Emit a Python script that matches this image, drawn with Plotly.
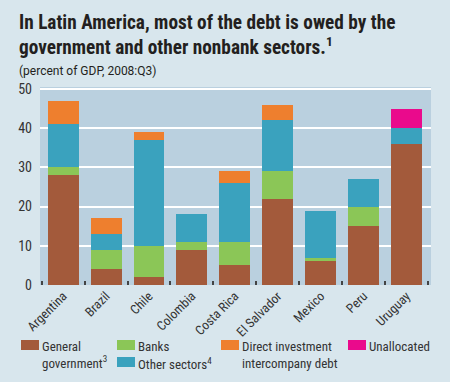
import plotly.graph_objects as go

countries = ["Argentina", "Brazil", "Chile", "Colombia", "Costa Rica",
             "El Salvador", "Mexico", "Peru", "Uruguay"]
general_government = [28, 4, 2, 9, 5, 22, 6, 15, 36]
banks = [2, 5, 8, 2, 6, 7, 1, 5, None]
other_sectors = [11, 4, 27, 7, 15, 13, 12, 7, 4]
direct_investment = [6, 4, 2, None, 3, 4, None, None, None]
unallocated = [None, None, None, None, None, None, None, None, 5]
y_ticks = [0, 10, 20, 30, 40, 50]

series = [
    ("General<br>government<sup>3</sup>", general_government, "#A35A3B"),
    ("Banks", banks, "#8BC657"),
    ("Other sectors<sup>4</sup>", other_sectors, "#3AA2BE"),
    ("Direct investment<br>intercompany debt", direct_investment, "#EE7F2E"),
    ("Unallocated", unallocated, "#EA0A8C"),
]

FONT = "Roboto Condensed, Liberation Sans Narrow, Roboto, sans-serif"
FONT_REG = "Roboto, sans-serif"

fig = go.Figure()
for name, vals, col in series:
    fig.add_trace(go.Bar(x=countries, y=vals, name=name, marker_color=col,
                         marker_line_width=0, width=0.72, showlegend=False))

fig.update_layout(
    barmode="stack",
    width=450, height=382,
    margin=dict(l=40, r=19, t=87, b=97),
    paper_bgcolor="#D8E6ED",
    plot_bgcolor="#BAD0DF",
    font=dict(family=FONT, size=13, color="#333333"),
    xaxis=dict(range=[-0.54, 8.57], tickangle=-45, tickson="boundaries",
               ticks="inside", ticklen=4, tickwidth=1.5, tickcolor="#444444",
               showgrid=False, tickfont=dict(size=13)),
    yaxis=dict(range=[0, 50.5], tickvals=y_ticks, showgrid=True,
               gridcolor="#FFFFFF", gridwidth=2, zeroline=False,
               tickfont=dict(size=14), ticks="", ticklabelstandoff=7),
)

def px(xp, yp):
    return (xp - 40) / 391.0, (285 - yp) / 198.0

ann = []
def add_text(x, y, text, size, color="#231F20", xanchor="left", yanchor="middle", family=FONT):
    a, b = px(x, y)
    ann.append(dict(x=a, y=b, xref="paper", yref="paper", text=text,
                    showarrow=False, xanchor=xanchor, yanchor=yanchor, align="left",
                    font=dict(family=family, size=size, color=color)))

add_text(17, 23, "<b>In Latin America, most of the debt is owed by the</b>", 19.3)
add_text(17, 46, "<b>government and other nonbank sectors.<sup>1</sup></b>", 19.3)
add_text(17, 71, "(percent of GDP, 2008:Q3)", 12, family=FONT_REG)

shapes = []
legend_items = [
    (21, 340, series[0]),
    (117, 340, series[1]),
    (117, 357, series[2]),
    (221, 340, series[3]),
    (348, 340, series[4]),
]
for x0, y0, (name, vals, col) in legend_items:
    a0, b0 = px(x0, y0)
    a1, b1 = px(x0 + 18, y0 + 10)
    shapes.append(dict(type="rect", xref="paper", yref="paper", x0=a0, x1=a1,
                       y0=b1, y1=b0, fillcolor=col, line_width=0))
    add_text(x0 + 19, y0 - 3, name, 13, color="#333333", yanchor="top")

fig.update_layout(annotations=ann, shapes=shapes)
fig.write_html("out.html", post_script="document.body.style.margin='0';",
               config={"displayModeBar": False})
